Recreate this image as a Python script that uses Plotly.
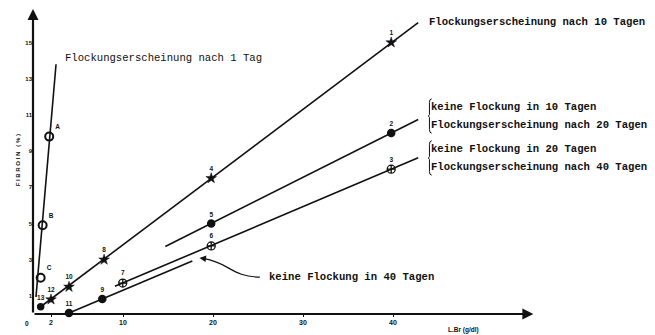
import plotly.graph_objects as go

# ---------------- data ----------------
# steep line, open circles
steep_labels = ["C", "B", "A"]
steep_x = [0.85, 1.07, 1.8]
steep_y = [2.0, 4.9, 9.8]
steep_line_x = [0.33, 2.56]
steep_line_y = [0.94, 13.8]

# series "Flockungserscheinung nach 10 Tagen" (stars)
s1_labels = ["13", "12", "10", "8", "4", "1"]
s1_x = [0.85, 2.0, 4.0, 7.9, 19.8, 39.8]
s1_y = [0.4, 0.8, 1.5, 3.0, 7.5, 15.0]
s1_line_x = [0.85, 42.8]
s1_line_y = [0.4, 16.1]

# series "keine Flockung in 10 Tagen / nach 20 Tagen" (filled circles)
s2_labels = ["5", "2"]
s2_x = [19.8, 39.8]
s2_y = [5.0, 10.0]
s2_line_x = [14.7, 42.8]
s2_line_y = [3.73, 10.75]

# series "keine Flockung in 20 Tagen / nach 40 Tagen" (open crossed circles)
s3_labels = ["7", "6", "3"]
s3_x = [9.97, 19.8, 39.8]
s3_y = [1.71, 3.76, 8.0]
s3_line_x = [9.1, 42.8]
s3_line_y = [1.53, 8.63]

# series "keine Flockung in 40 Tagen" (filled circles)
s4_labels = ["11", "9"]
s4_x = [4.0, 7.7]
s4_y = [0.05, 0.83]
s4_line_x = [4.0, 17.7]
s4_line_y = [0.05, 2.93]

x_ticks = [2, 10, 20, 30, 40]
y_ticks = [1, 3, 5, 7, 9, 11, 13, 15]

# ---------------- figure ----------------
# the page body has an 8px margin, so the figure is sized to fill the rest
OFF = 8
W, H = 655 - OFF, 335 - OFF
ML = 33 - OFF
Y0 = 314 - OFF
MB = H - Y0
PX_X, PX_Y = 9.0, 18.1
XMAX = (W - ML) / PX_X
YMAX = Y0 / PX_Y

TXT = dict(family="Liberation Mono", size=10.6, color="#111")
TXTB = dict(family="Liberation Mono", size=10.6, color="#111", weight="bold")
LBL = dict(family="Liberation Sans", size=6.5, color="#111", weight="bold")
LINE = dict(color="#111", width=1.6)

fig = go.Figure()

def add_line(xs, ys):
    fig.add_trace(go.Scatter(x=xs, y=ys, mode="lines", line=LINE,
                             hoverinfo="skip", showlegend=False, cliponaxis=False))

def add_pts(xs, ys, labels, symbol, size, lw=1.5, fill="#111", pos="top center"):
    fig.add_trace(go.Scatter(
        x=xs, y=ys, mode="markers+text", text=labels, textposition=pos,
        textfont=LBL,
        marker=dict(symbol=symbol, size=size, color=fill,
                    line=dict(color="#111", width=lw)),
        showlegend=False, cliponaxis=False))

add_line(steep_line_x, steep_line_y)
add_line(s1_line_x, s1_line_y)
add_line(s2_line_x, s2_line_y)
add_line(s3_line_x, s3_line_y)
add_line(s4_line_x, s4_line_y)

add_pts(steep_x, steep_y, steep_labels, "circle-open", 8, lw=2, fill="#111",
        pos="top right")
add_pts(s1_x[:1], s1_y[:1], s1_labels[:1], "circle", 6)
add_pts(s1_x[1:], s1_y[1:], s1_labels[1:], "star", 8, lw=0.5)
add_pts(s2_x, s2_y, s2_labels, "circle", 7)
add_pts(s3_x, s3_y, s3_labels, "circle-cross-open", 8, lw=1.3)
add_pts(s4_x, s4_y, s4_labels, "circle", 7)

def px(v):  # data x -> paper x (works outside the axis range)
    return v / XMAX

def py(v):  # data y -> paper y
    return v / YMAX

ann = []
# axes drawn as arrows
ann.append(dict(x=55.6, y=0, ax=0, ay=0, axref="x", ayref="y",
                xref="x", yref="y", showarrow=True, arrowhead=2, arrowsize=1,
                arrowwidth=2.2, arrowcolor="#111", text="", standoff=0))
ann.append(dict(x=0, y=YMAX - 0.05, ax=0, ay=0, axref="x", ayref="y",
                xref="x", yref="y", showarrow=True, arrowhead=2, arrowsize=1,
                arrowwidth=2.2, arrowcolor="#111", text="", standoff=0))
# origin label
ann.append(dict(x=px(-0.65), y=py(-0.5), xref="paper", yref="paper", text="0",
                xanchor="center", yanchor="middle", showarrow=False, font=LBL))
# axis titles
ann.append(dict(x=px(-1.65), y=py(8.5), xref="paper", yref="paper",
                xanchor="center", yanchor="middle",
                text="F I B R O I N   ( % )", textangle=-90, showarrow=False,
                font=dict(family="Liberation Sans", size=6, color="#111",
                          weight="bold")))
ann.append(dict(x=px(47.8), y=py(-0.88), xref="paper", yref="paper",
                xanchor="center", yanchor="middle",
                text="L.Br (g/dl)", showarrow=False,
                font=dict(family="Liberation Sans", size=6.5, color="#111",
                          weight="bold")))

# captions
ann.append(dict(x=3.35, y=14.15, xref="x", yref="y", xanchor="left",
                text="Flockungserscheinung nach 1 Tag", showarrow=False, font=TXT))
ann.append(dict(x=43.8, y=16.13, xref="x", yref="y", xanchor="left",
                text="Flockungserscheinung nach 10 Tagen", showarrow=False, font=TXTB))

groups = [
    (10.94, "keine Flockung in 10 Tagen", "Flockungserscheinung nach 20 Tagen"),
    (8.62, "keine Flockung in 20 Tagen", "Flockungserscheinung nach 40 Tagen"),
]
shapes = []
GX = 44.0
for yc, t1, t2 in groups:
    ann.append(dict(x=GX, y=yc + 0.5, xref="x", yref="y", xanchor="left",
                    text=t1, showarrow=False, font=TXTB))
    ann.append(dict(x=GX, y=yc - 0.5, xref="x", yref="y", xanchor="left",
                    text=t2, showarrow=False, font=TXTB))
    bx = GX + 0.05
    top, bot = yc + 0.95, yc - 0.95
    path = (f"M {bx+0.25},{top} Q {bx},{top} {bx},{top-0.2} L {bx},{yc+0.08} "
            f"L {bx-0.12},{yc} L {bx},{yc-0.08} L {bx},{bot+0.2} "
            f"Q {bx},{bot} {bx+0.25},{bot}")
    shapes.append(dict(type="path", path=path, xref="x", yref="y",
                       line=dict(color="#111", width=1)))

ann.append(dict(x=26.0, y=2.04, xref="x", yref="y", xanchor="left",
                text="keine Flockung in 40 Tagen", showarrow=False, font=TXTB))
# curved pointer
shapes.append(dict(type="path", xref="x", yref="y",
                   path="M 25.2,2.04 C 22.1,2.04 21.7,2.87 18.9,3.07",
                   line=dict(color="#111", width=1.2)))
ann.append(dict(x=18.5, y=3.1, ax=19.3, ay=3.05, axref="x", ayref="y",
                xref="x", yref="y", showarrow=True, arrowhead=2, arrowsize=1,
                arrowwidth=1.3, arrowcolor="#111", text="", standoff=0))

fig.update_layout(
    width=W, height=H,
    margin=dict(l=ML, r=0, t=0, b=MB, pad=0, autoexpand=False),
    paper_bgcolor="white", plot_bgcolor="white",
    annotations=ann, shapes=shapes,
    xaxis=dict(range=[0, XMAX], showgrid=False, zeroline=False, showline=False,
               automargin=False,
               tickvals=x_ticks, ticks="outside", ticklen=2, tickcolor="#111",
               tickfont=dict(family="Liberation Sans", size=7, color="#111",
                             weight="bold"), fixedrange=True),
    yaxis=dict(range=[0, YMAX], showgrid=False, zeroline=False, showline=False,
               automargin=False,
               tickvals=y_ticks, ticks="", ticklen=2, tickcolor="#111",
               tickfont=dict(family="Liberation Sans", size=6, color="#111",
                             weight="bold"), fixedrange=True),
)

fig.write_html("out.html")
